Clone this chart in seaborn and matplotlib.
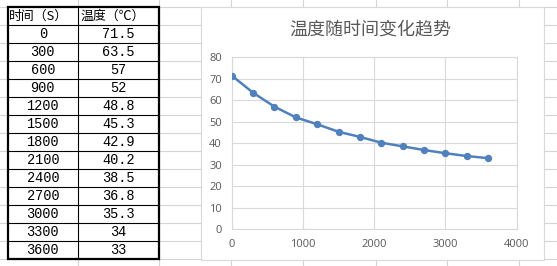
import matplotlib
matplotlib.use("Agg")
import matplotlib.pyplot as plt
import seaborn as sns
import pandas as pd
from matplotlib.patches import Rectangle

# ---- data ----
time_s = [0, 300, 600, 900, 1200, 1500, 1800, 2100, 2400, 2700, 3000, 3300, 3600]
temp_c = [71.5, 63.5, 57, 52, 48.8, 45.3, 42.9, 40.2, 38.5, 36.8, 35.3, 34, 33]
header = ["时间（S）", "温度（℃）"]
title = "温度随时间变化趋势"
x_ticks = [0, 1000, 2000, 3000, 4000]
y_ticks = [0, 10, 20, 30, 40, 50, 60, 70, 80]

sns.set_theme(style="white")
plt.rcParams["font.family"] = ["Noto Sans CJK SC", "DejaVu Sans"]

W, H = 557, 266
fig = plt.figure(figsize=(W / 100, H / 100), dpi=100)
fig.patch.set_facecolor("white")

# background "spreadsheet" layer in pixel coordinates
bg = fig.add_axes([0, 0, 1, 1])
bg.set_xlim(0, W)
bg.set_ylim(H, 0)
bg.axis("off")

sheet_grid = "#d4d4d4"
col_x = [78, 159, 231, 303, 376, 447, 519]
row_y = [7 + 18 * k for k in range(15)]
for x in col_x:
    bg.plot([x, x], [0, H], color=sheet_grid, lw=0.8, zorder=1)
for y in row_y:
    bg.plot([0, W], [y, y], color=sheet_grid, lw=0.8, zorder=1)

# table
tl, tm, tr = 7.5, 78, 159
tt, rh = 7, 18
nrows = len(time_s) + 1
tb = tt + rh * nrows
bg.add_patch(Rectangle((tl, tt), tr - tl, tb - tt, facecolor="white",
                       edgecolor="none", zorder=2))
for k in range(1, nrows):
    y = tt + rh * k
    bg.plot([tl, tr], [y, y], color="black", lw=0.8, zorder=3)
bg.plot([tm, tm], [tt, tb], color="black", lw=0.8, zorder=3)
bg.add_patch(Rectangle((tl, tt), tr - tl, tb - tt, facecolor="none",
                       edgecolor="black", lw=1.6, zorder=4))

bg.text(9, tt + rh / 2 + 0.5, header[0], ha="left", va="center",
        fontsize=9.3, color="black", zorder=5)
bg.text(81, tt + rh / 2 + 0.5, header[1], ha="left", va="center",
        fontsize=9.3, color="black", zorder=5)
for i, (t, v) in enumerate(zip(time_s, temp_c)):
    yc = tt + rh * (i + 1) + rh / 2 + 0.5
    bg.text((tl + tm) / 2, yc, f"{t}", ha="center", va="center",
            fontsize=9.8, family="Liberation Mono", color="black", zorder=5)
    bg.text((tm + tr) / 2, yc, f"{v:g}", ha="center", va="center",
            fontsize=9.8, family="Liberation Mono", color="black", zorder=5)

# chart box
bg.add_patch(Rectangle((200.7, 7.3), 543.8 - 200.7, 260 - 7.3,
                       facecolor="white", edgecolor="#d9d9d9", lw=0.8, zorder=6))
bg.text(370.7, 30, title, ha="center", va="center", fontsize=13,
        color="#595959", fontweight="light", zorder=7)

# chart axes
px_l, px_r, px_t, px_b = 231.7, 516.7, 57.3, 229.0
ax = fig.add_axes([px_l / W, (H - px_b) / H, (px_r - px_l) / W, (px_b - px_t) / H])
ax.set_facecolor("none")
df = pd.DataFrame({"time": time_s, "temp": temp_c})
sns.lineplot(data=df, x="time", y="temp", ax=ax, color="#4f81bd", lw=1.8,
             marker="o", markersize=5.3, markeredgewidth=0, zorder=5)
ax.set_xlim(0, 4000)
ax.set_ylim(0, 80)
ax.set_xticks(x_ticks)
ax.set_yticks(y_ticks)
ax.set_xlabel("")
ax.set_ylabel("")
ax.grid(True, color="#d9d9d9", lw=0.8)
ax.set_axisbelow(True)
for s in ax.spines.values():
    s.set_visible(True)
    s.set_color("#d9d9d9")
    s.set_linewidth(0.8)
ax.tick_params(length=0, labelsize=8, labelcolor="#595959")
ax.tick_params(axis="y", pad=7)
ax.tick_params(axis="x", pad=7)
for lab in ax.get_xticklabels() + ax.get_yticklabels():
    lab.set_family(["Open Sans", "DejaVu Sans"])

fig.savefig("out.png", dpi=100, facecolor="white")
